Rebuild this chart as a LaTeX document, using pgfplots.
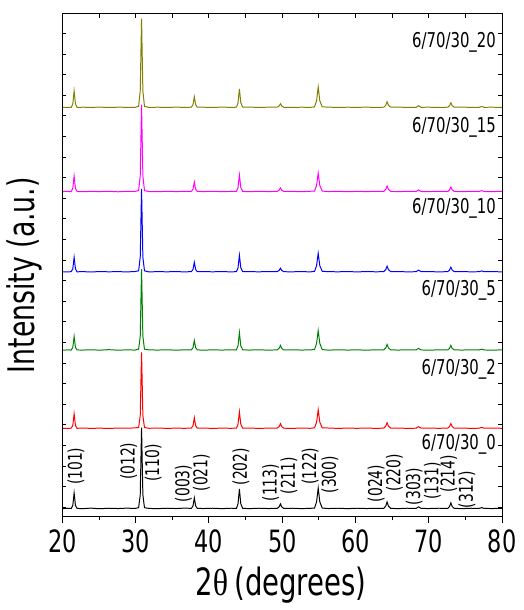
\documentclass[border=0pt]{standalone}
\usepackage{fontspec}
\setmainfont{DejaVu Sans}[FakeStretch=0.73]
\newfontfamily\thetafont{Liberation Serif}[FakeStretch=0.85]
\usepackage{pgfplots}
\pgfplotsset{compat=1.18}
\usepackage{pgfplotstable}
\usetikzlibrary{calc}
\definecolor{xolive}{RGB}{128,128,0}
\definecolor{xmagenta}{RGB}{255,0,255}
\definecolor{xblue}{RGB}{0,0,255}
\definecolor{xgreen}{RGB}{0,128,0}
\definecolor{xred}{RGB}{255,0,0}

% intensities in plot units, without vertical offset
\pgfplotstableread{
x     s0    s2    s5    s10   s15   s20
20.0  0.2   0.3   0.1   0.2   0.3   0.2
20.7  0.6   0.2   0.5   0.3   0.6   0.4
21.2  0.3   0.4   0.3   0.4   0.2   0.3
21.42 3.5   3.2   3.0   3.3   3.5   3.8
21.6  16    15    14    15    16    17
21.78 3.5   3.2   3.0   3.3   3.5   3.8
22.0  0.4   0.3   0.4   0.3   0.4   0.3
22.8  0.2   0.6   0.3   0.5   0.2   0.5
23.9  0.7   0.2   0.6   0.1   0.5   0.3
25.1  0.1   0.5   0.2   0.6   0.3   0.6
26.3  0.6   0.1   0.7   0.3   0.6   0.2
27.6  0.3   0.6   0.2   0.5   0.1   0.5
28.8  0.7   0.4   0.5   0.2   0.6   0.4
29.9  0.4   0.7   0.3   0.6   0.5   0.3
30.4  1.2   1.1   1.2   1.3   1.3   1.4
30.62 14    13    14    15    16    17
30.8  82    77    82    84    88    90
30.98 14    13    14    15    16    17
31.2  1.2   1.1   1.2   1.3   1.3   1.4
31.8  0.4   0.3   0.5   0.2   0.4   0.3
33.0  0.2   0.6   0.3   0.5   0.2   0.5
34.3  0.6   0.2   0.6   0.3   0.6   0.2
35.5  0.3   0.5   0.2   0.6   0.3   0.6
36.6  0.7   0.3   0.5   0.2   0.5   0.3
37.6  0.5   0.5   0.5   0.5   0.5   0.5
37.82 3.0   2.9   2.7   2.7   2.7   3.1
38.0  11    11    10    10    10    11
38.18 3.0   2.9   2.7   2.7   2.7   3.1
38.4  0.5   0.5   0.5   0.5   0.5   0.5
39.2  0.3   0.6   0.2   0.6   0.3   0.5
40.5  0.6   0.2   0.5   0.3   0.6   0.2
41.8  0.2   0.5   0.3   0.6   0.2   0.6
43.0  0.6   0.3   0.6   0.2   0.5   0.3
43.75 0.5   0.5   0.5   0.5   0.5   0.5
43.96 5.0   4.3   4.6   4.3   4.3   5.0
44.15 20    17    18    17    17    19
44.34 5.0   4.3   4.6   4.3   4.3   5.0
44.6  0.5   0.5   0.5   0.5   0.5   0.5
45.5  0.2   0.6   0.3   0.5   0.2   0.6
46.8  0.6   0.2   0.6   0.3   0.6   0.3
48.1  0.3   0.5   0.2   0.6   0.3   0.5
49.3  0.5   0.5   0.5   0.5   0.5   0.5
49.57 2.0   2.0   2.0   1.7   1.7   1.7
49.75 5     5     5     4     4     4
49.93 2.0   2.0   2.0   1.7   1.7   1.7
50.2  0.4   0.4   0.4   0.4   0.4   0.4
51.4  0.6   0.2   0.6   0.3   0.5   0.2
52.6  0.2   0.6   0.3   0.6   0.2   0.5
53.8  0.5   0.3   0.5   0.2   0.6   0.3
54.4  0.8   0.8   0.8   0.8   0.8   0.8
54.68 7     6.5   7     6.5   6.5   7
54.9  21    19    20    19    19    21
55.12 7     6.5   7     6.5   6.5   7
55.45 0.8   0.8   0.8   0.8   0.8   0.8
56.3  0.3   0.6   0.2   0.5   0.3   0.6
57.6  0.6   0.2   0.6   0.3   0.6   0.2
58.9  0.2   0.5   0.3   0.6   0.2   0.5
60.2  0.6   0.3   0.5   0.2   0.5   0.3
61.5  0.3   0.6   0.2   0.6   0.3   0.6
62.8  0.5   0.2   0.6   0.3   0.6   0.2
63.85 0.5   0.5   0.5   0.5   0.5   0.5
64.12 2.8   2.5   2.5   2.5   2.5   2.5
64.3  7     6     6     6     6     6
64.48 2.8   2.5   2.5   2.5   2.5   2.5
64.8  0.5   0.5   0.5   0.5   0.5   0.5
65.8  0.2   0.6   0.3   0.5   0.2   0.6
67.1  0.6   0.2   0.6   0.3   0.6   0.3
68.25 0.4   0.4   0.4   0.4   0.4   0.4
68.6  2     2     2     2     2     2
68.95 0.4   0.4   0.4   0.4   0.4   0.4
70.0  0.3   0.6   0.2   0.6   0.3   0.5
71.3  0.6   0.3   0.5   0.2   0.6   0.2
72.6  0.5   0.5   0.5   0.5   0.5   0.5
72.82 2.4   2.1   2.1   2.1   2.1   2.1
73.0  6     5     5     5     5     5
73.18 2.4   2.1   2.1   2.1   2.1   2.1
73.45 0.5   0.5   0.5   0.5   0.5   0.5
74.5  0.2   0.6   0.3   0.5   0.2   0.6
75.8  0.6   0.2   0.6   0.3   0.6   0.3
76.85 0.4   0.4   0.4   0.4   0.4   0.4
77.2  1.2   1.2   1.2   1.2   1.2   1.2
77.55 0.4   0.4   0.4   0.4   0.4   0.4
78.6  0.3   0.6   0.2   0.6   0.3   0.5
80.0  0.5   0.3   0.5   0.2   0.5   0.3
}\xrd

\begin{document}
\begin{tikzpicture}
\begin{axis}[
  name=ax, scale only axis, width=222pt, height=254pt,
  xmin=20, xmax=80, ymin=0, ymax=508,
  xtick={20,30,...,80}, minor x tick num=1,
  xtick pos=bottom, xtick align=outside,
  major tick length=3pt, minor tick length=1.8pt,
  ytick=\empty,
  axis line style={line width=0.6pt},
  tick style={line width=0.5pt, black},
  ticklabel style={font=\fontsize{15.5}{16}\selectfont},
  /pgf/number format/assume math mode=true,
  xlabel={2{\thetafont θ}\,(degrees)},
  xlabel style={font=\fontsize{19}{20}\selectfont, at={(axis description cs:0.497,-0.136)}, anchor=center},
  ylabel={Intensity (a.u.)},
  ylabel style={font=\fontsize{18.5}{20}\selectfont, at={(axis description cs:-0.086,0.48)}, anchor=center, rotate=0},
  clip=false,
  every axis plot/.append style={line width=0.5pt},
]
\addplot[black, no marks] table[x=x, y expr=\thisrow{s0}+8] {\xrd};
\addplot[xred, no marks] table[x=x, y expr=\thisrow{s2}+89] {\xrd};
\addplot[xgreen, no marks] table[x=x, y expr=\thisrow{s5}+168] {\xrd};
\addplot[xblue, no marks] table[x=x, y expr=\thisrow{s10}+247] {\xrd};
\addplot[xmagenta, no marks] table[x=x, y expr=\thisrow{s15}+328] {\xrd};
\addplot[xolive, no marks] table[x=x, y expr=\thisrow{s20}+413] {\xrd};

\begin{scope}[every node/.style={anchor=east, inner sep=0pt, font=\fontsize{10.3}{12}\selectfont}]
\node at (axis cs:79.2,479) {6/70/30\_20};
\node at (axis cs:79.2,393) {6/70/30\_15};
\node at (axis cs:79.2,311) {6/70/30\_10};
\node at (axis cs:79.2,229) {6/70/30\_5};
\node at (axis cs:79.2,149) {6/70/30\_2};
\node at (axis cs:79.2,73) {6/70/30\_0};
\end{scope}

\begin{scope}[every node/.style={rotate=90, inner sep=0pt, font=\fontsize{9.6}{10}\selectfont}]
\node at (axis cs:21.85,51) {(101)};
\node at (axis cs:29.05,56) {(012)};
\node at (axis cs:32.4,54.5) {(110)};
\node at (axis cs:36.5,33.5) {(003)};
\node at (axis cs:38.96,44.5) {(021)};
\node at (axis cs:44.37,50.5) {(202)};
\node at (axis cs:48.4,34.5) {(113)};
\node at (axis cs:50.9,41.5) {(211)};
\node at (axis cs:53.8,51) {(122)};
\node at (axis cs:56.5,42.5) {(300)};
\node at (axis cs:62.8,33.5) {(024)};
\node at (axis cs:65.3,44.5) {(220)};
\node at (axis cs:68.0,30.5) {(303)};
\node at (axis cs:70.5,36) {(131)};
\node at (axis cs:72.7,43.5) {(214)};
\node at (axis cs:75.2,27.5) {(312)};
\end{scope}

\coordinate (bl) at (rel axis cs:0,0);
\coordinate (tr) at (rel axis cs:1,1);
\end{axis}
% top ticks (inside) and y ticks on both sides (inside)
\begin{axis}[
  scale only axis, width=222pt, height=254pt,
  xmin=20, xmax=80, ymin=0, ymax=508,
  xtick={20,25,...,80}, xtick pos=top, xtick align=inside,
  ytick={9.6,30.4,...,500}, ytick pos=both, ytick align=inside,
  xticklabels={}, yticklabels={},
  major tick length=2pt,
  axis line style={line width=0.6pt},
  tick style={line width=0.5pt, black},
]
\end{axis}
\path ($(bl)+(-31.5pt,-44.5pt)$) rectangle ($(tr)+(7pt,6.5pt)$);
\end{tikzpicture}
\end{document}
